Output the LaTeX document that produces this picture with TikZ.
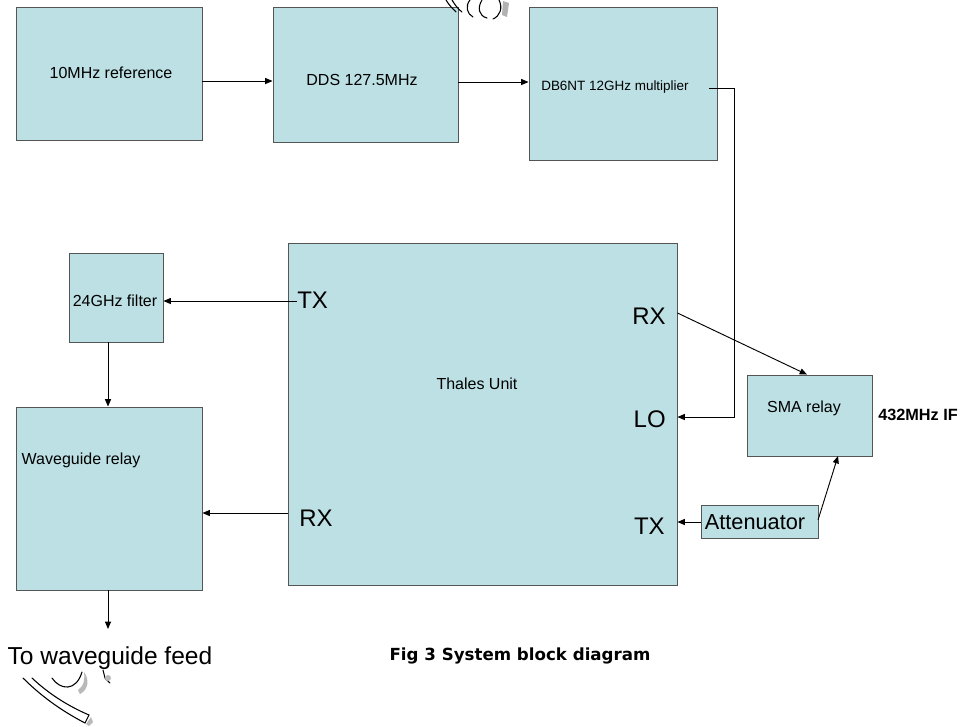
\documentclass[tikz,border=0pt]{standalone}
\usepackage{fontspec}
\setmainfont{Liberation Sans}
\newfontfamily\capfont{DejaVu Sans}
\usetikzlibrary{arrows.meta}
\definecolor{boxblue}{RGB}{188,224,228}
\definecolor{boxedge}{RGB}{85,85,85}
\tikzset{
  box/.style={draw=boxedge, fill=boxblue, line width=0.7pt, inner sep=0pt, anchor=center},
  lbl/.style={inner sep=0pt, font=\fontsize{12}{14}\selectfont},
  port/.style={inner sep=0pt, font=\fontsize{18}{20}\selectfont},
  arr/.style={line width=0.7pt, -{Triangle[length=5.5pt,width=4.5pt]}},
  scrib/.style={line width=0.8pt, line cap=round}
}
\begin{document}
\begin{tikzpicture}[x=0.75pt, y=-0.75pt]
\useasboundingbox (0,0) rectangle (962,726);
% boxes
\node[box, minimum width=139.5pt, minimum height=99.75pt] (ref) at (109,73.5) {};
\node[box, minimum width=138.75pt, minimum height=101.25pt] (dds) at (365.5,74.5) {};
\node[box, minimum width=141pt, minimum height=114.75pt] (db6) at (623,83.5) {};
\node[box, minimum width=291.75pt, minimum height=256.5pt] (thales) at (482.5,414) {};
\node[box, minimum width=70.5pt, minimum height=66.75pt] (filt) at (116,297.5) {};
\node[box, minimum width=139.5pt, minimum height=137.25pt] (wg) at (109,498.5) {};
\node[box, minimum width=93.75pt, minimum height=60.75pt] (sma) at (809.5,415.5) {};
\node[box, minimum width=87.75pt, minimum height=24.75pt] (att) at (759.5,521.5) {};
% labels
\node[lbl] (reflbl) at (111,73) {10MHz reference};
\node[lbl] (ddslbl) at (362,80) {DDS 127.5MHz};
\node[lbl, font=\fontsize{10.1}{12}\selectfont, anchor=west] (db6lbl) at (541,87) {DB6NT 12GHz multiplier};
\node[lbl] (thlbl) at (477,384) {Thales Unit};
\node[lbl] (filtlbl) at (115,301) {24GHz filter};
\node[lbl] (wglbl) at (81,460) {Waveguide relay};
\node[lbl] (smalbl) at (804,408) {SMA relay};
\node[lbl, font=\fontsize{16.3}{18}\selectfont] (attlbl) at (755,522) {Attenuator};
\node[lbl, font=\fontsize{12.2}{14}\selectfont\bfseries, anchor=west] (iflbl) at (878,415) {432MHz IF};
\node[port, anchor=west] (txl) at (297,300) {TX};
\node[port, anchor=east] (rxr) at (666,316) {RX};
\node[port, anchor=east] (lor) at (666,419) {LO};
\node[port, anchor=west] (rxl) at (299,518) {RX};
\node[port, anchor=east] (txr) at (665,526) {TX};
\node[inner sep=0pt, font=\fontsize{18.4}{20}\selectfont] (feed) at (110,658) {To waveguide feed};
\node[inner sep=0pt, font=\fontsize{12.5}{14}\capfont\bfseries] (cap) at (520,656) {Fig 3 System block diagram};
% helper coordinates
\coordinate (y81) at (0,81);
\coordinate (y82) at (0,82);
\coordinate (c0) at (709,88);
\coordinate (c1) at (734,88);
\coordinate (c2) at (734,417);
\coordinate (y417) at (0,417);
\coordinate (y301) at (0,301);
\coordinate (x108) at (108,0);
\coordinate (y513) at (0,513);
\coordinate (y313) at (0,313);
\coordinate (x807) at (807,0);
\coordinate (y522) at (0,522);
\coordinate (a1) at (818,520);
\coordinate (s1) at (838,456);
\coordinate (feedtip) at (108,629);
% connectors
\draw[arr] (ref.east |- y81) -- (dds.west |- y81);
\draw[arr] (dds.east |- y82) -- (db6.west |- y82);
\draw[arr] (c0) -- (c1) -- (c2) -- (thales.east |- y417);
\draw[arr] (txl.west |- y301) -- (filt.east |- y301);
\draw[arr] (filt.south -| x108) -- (wg.north -| x108);
\draw[arr] (thales.west |- y513) -- (wg.east |- y513);
\draw[arr] (wg.south -| x108) -- (feedtip);
\draw[arr] (thales.east |- y313) -- (sma.north -| x807);
\draw[arr] (att.west |- y522) -- (thales.east |- y522);
\draw[arr] (a1) -- (s1);
% clip-art fragments
\draw[scrib] (446,0) .. controls (449,5) and (452,8) .. (456,12);
\draw[scrib] (452,0) .. controls (455,5) and (458,9) .. (462,12);
\draw[scrib] (470,0) .. controls (465,6) and (467,14) .. (473,17);
\draw[scrib] (482,0) .. controls (477,8) and (479,16) .. (487,18);
\draw[scrib] (499,0) .. controls (503,8) and (500,16) .. (493,19);
\fill[gray!60] (503,1) -- (509,3) -- (507,17) -- (502,15) -- cycle;
\draw[scrib] (23,678) .. controls (40,695) and (60,710) .. (85,723);
\draw[scrib] (32,678) .. controls (48,693) and (66,705) .. (89,715);
\draw[scrib] (85,723) -- (89,715);
\fill[gray!55] (86,724) -- (91,717) -- (93,722) -- (89,726) -- cycle;
\draw[scrib] (52,678) .. controls (60,690) and (76,692) .. (82,672);
\fill[gray!55] (84,672) .. controls (90,680) and (88,690) .. (80,694) -- (78,690) .. controls (84,686) and (85,680) .. cycle;
\draw[scrib] (103,670) -- (105,678) -- (110,683);
\fill[gray!55] (108,678) circle (3);
\end{tikzpicture}
\end{document}
